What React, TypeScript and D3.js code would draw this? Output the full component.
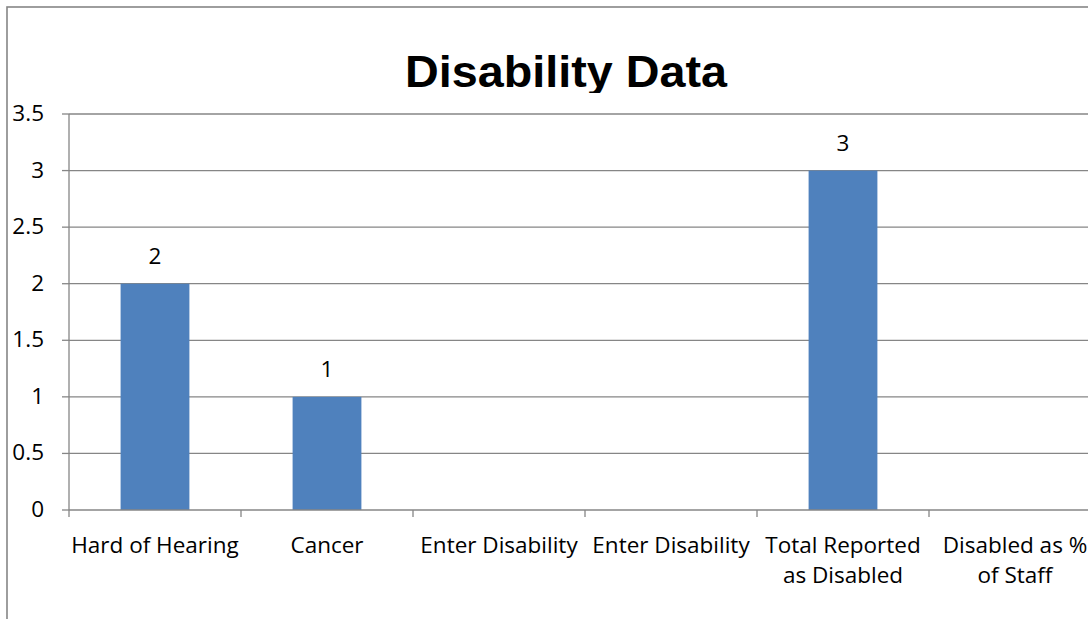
import React from "react";
import * as d3 from "d3";

const categories: string[][] = [
  ["Hard of Hearing"],
  ["Cancer"],
  ["Enter Disability"],
  ["Enter Disability"],
  ["Total Reported", "as Disabled"],
  ["Disabled as %", "of Staff"],
];
const values: (number | null)[] = [2, 1, null, null, 3, null];
const yTicks: number[] = [0, 0.5, 1, 1.5, 2, 2.5, 3, 3.5];
const title = "Disability Data";

const W = 1088;
const H = 619;
const plot = { left: 69, right: 1101, top: 114, bottom: 510 };
const labelFont = "'Open Sans', sans-serif";
const gridColor = "#868686";
const barColor = "#4F81BD";

export default function App() {
  const x = d3
    .scaleBand<number>()
    .domain(d3.range(categories.length))
    .range([plot.left, plot.right])
    .paddingInner(0)
    .paddingOuter(0);
  const y = d3.scaleLinear().domain([0, 3.5]).range([plot.bottom, plot.top]);
  const barW = x.bandwidth() * 0.4;
  const tickEdges = d3.range(categories.length + 1).map((i) => plot.left + i * x.step());

  return (
    <svg
      width={W}
      height={H}
      style={{ position: "absolute", left: 0, top: 0, background: "#fff" }}
    >
      <defs>
        <clipPath id="titleClip">
          <rect x={0} y={0} width={W} height={93} />
        </clipPath>
      </defs>
      {/* chart frame */}
      <rect x={7} y={7} width={W + 40} height={H + 40} fill="#fff" stroke={gridColor} strokeWidth={1.6} />

      {/* title */}
      <text
        x={566}
        y={87}
        textAnchor="middle"
        fontFamily="'Liberation Sans', Arial, sans-serif"
        fontWeight="bold"
        fontSize={44}
        textLength={322}
        lengthAdjust="spacingAndGlyphs"
        clipPath="url(#titleClip)"
        fill="#000"
      >
        {title}
      </text>

      {/* gridlines and y ticks */}
      {yTicks.map((t) => (
        <g key={t}>
          {t > 0 && (
            <line x1={plot.left} x2={plot.right} y1={y(t)} y2={y(t)} stroke={gridColor} strokeWidth={1.3} />
          )}
          <line x1={plot.left - 7} x2={plot.left} y1={y(t)} y2={y(t)} stroke={gridColor} strokeWidth={1.3} />
          <text
            x={44}
            y={y(t) + 7}
            textAnchor="end"
            fontFamily={labelFont}
            fontSize={22.5}
            fill="#000"
          >
            {t}
          </text>
        </g>
      ))}

      {/* bars */}
      {values.map((v, i) =>
        v == null ? null : (
          <g key={i}>
            <rect
              x={(x(i) as number) + (x.bandwidth() - barW) / 2}
              y={y(v)}
              width={barW}
              height={y(0) - y(v)}
              fill={barColor}
            />
            <text
              x={(x(i) as number) + x.bandwidth() / 2}
              y={y(v) - 20}
              textAnchor="middle"
              fontFamily={labelFont}
              fontSize={22.5}
              fill="#000"
            >
              {v}
            </text>
          </g>
        )
      )}

      {/* axes */}
      <line x1={plot.left} x2={plot.left} y1={plot.top} y2={plot.bottom} stroke={gridColor} strokeWidth={1.3} />
      <line x1={plot.left} x2={plot.right} y1={plot.bottom} y2={plot.bottom} stroke={gridColor} strokeWidth={1.3} />
      {tickEdges.map((tx, i) => (
        <line key={i} x1={tx} x2={tx} y1={plot.bottom} y2={plot.bottom + 7} stroke={gridColor} strokeWidth={1.3} />
      ))}

      {/* category labels */}
      {categories.map((lines, i) => (
        <text
          key={i}
          x={(x(i) as number) + x.bandwidth() / 2}
          y={553}
          textAnchor="middle"
          fontFamily={labelFont}
          fontSize={22.5}
          fill="#000"
        >
          {lines.map((l, j) => (
            <tspan key={j} x={(x(i) as number) + x.bandwidth() / 2} dy={j === 0 ? 0 : 30}>
              {l}
            </tspan>
          ))}
        </text>
      ))}
    </svg>
  );
}
